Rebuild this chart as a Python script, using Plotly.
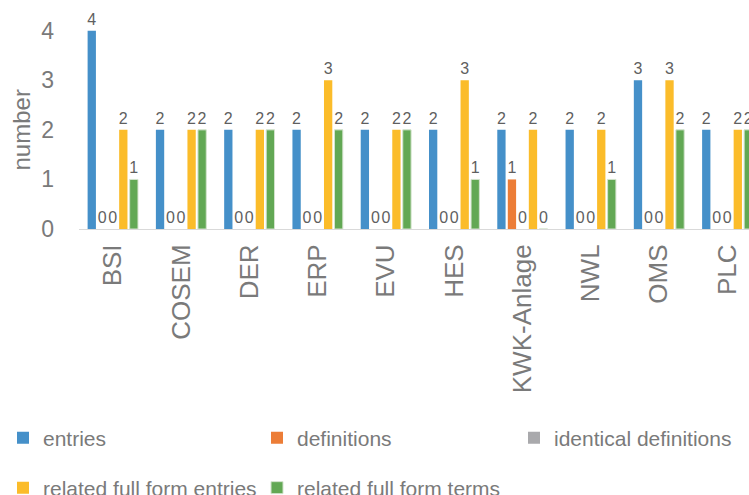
import plotly.graph_objects as go

# Terms and the counts found for each of them
categories = ["BSI", "COSEM", "DER", "ERP", "EVU", "HES", "KWK-Anlage", "NWL", "OMS", "PLC"]
entries = [4, 2, 2, 2, 2, 2, 2, 2, 3, 2]
definitions = [0, 0, 0, 0, 0, 0, 1, 0, 0, 0]
identical_definitions = [0, 0, 0, 0, 0, 0, 0, 0, 0, 0]
related_full_form_entries = [2, 2, 2, 3, 2, 3, 2, 2, 3, 2]
related_full_form_terms = [1, 2, 2, 2, 2, 1, 0, 1, 2, 2]

series = [
    ("entries", entries, "#4590C9", "legend"),
    ("definitions", definitions, "#EC7D37", "legend"),
    ("identical definitions", identical_definitions, "#A9A9AC", "legend3"),
    ("related full form entries", related_full_form_entries, "#FBBC2A", "legend2"),
    ("related full form terms", related_full_form_terms, "#62A854", "legend2"),
]

FONT = "Liberation Sans, Arial, Helvetica, sans-serif"
TEXT_GREY = "#7a7a7a"
LABEL_GREY = "#5f5f5f"
W, H = 749, 495

fig = go.Figure()
for name, values, color, legend in series:
    line = dict(color="#d3e3cd", width=1) if name == "related full form terms" else dict(width=0)
    fig.add_trace(go.Bar(
        name=name,
        x=categories,
        y=values,
        marker=dict(color=color, line=line),
        text=[str(v) for v in values],
        textposition="outside",
        constraintext="none",
        textfont=dict(family=FONT, size=16, color=LABEL_GREY),
        cliponaxis=False,
        legend=legend,
    ))

legend_common = dict(
    orientation="h",
    xref="container",
    yref="container",
    xanchor="left",
    yanchor="middle",
    entrywidth=209,
    itemwidth=30,
    font=dict(family=FONT, size=21, color=TEXT_GREY),
    bgcolor="rgba(0,0,0,0)",
    traceorder="normal",
)

fig.update_layout(
    width=W,
    height=H,
    margin=dict(l=79, r=0, t=1, b=266),
    plot_bgcolor="white",
    paper_bgcolor="white",
    barmode="group",
    bargap=0.23,
    bargroupgap=0.21,
    showlegend=True,
    legend=dict(x=3 / W, y=1 - 438 / H, **legend_common),
    legend3=dict(x=514 / W, y=1 - 438 / H, **legend_common),
    legend2=dict(x=3 / W, y=1 - 488 / H, **legend_common),
    xaxis=dict(
        range=[-0.495, 9.318],
        tickangle=-90,
        tickfont=dict(family=FONT, size=26, color=TEXT_GREY),
        showline=True,
        linecolor="#d9d9d9",
        linewidth=1,
        showgrid=False,
        ticks="",
        ticklabelstandoff=4,
        automargin=False,
        fixedrange=True,
    ),
    yaxis=dict(
        range=[0, 4.6],
        tickvals=[0, 1, 2, 3, 4],
        tickfont=dict(family=FONT, size=23, color=TEXT_GREY),
        showgrid=False,
        zeroline=False,
        showline=False,
        ticks="",
        ticklabelstandoff=24,
        automargin=False,
        fixedrange=True,
    ),
    annotations=[
        dict(
            text="number",
            xref="paper", yref="paper",
            x=(21 - 79) / 670, y=(229 - 129.5) / 228,
            xanchor="center", yanchor="middle",
            textangle=-90,
            showarrow=False,
            font=dict(family=FONT, size=24, color=TEXT_GREY),
        )
    ],
)

fig.write_html("out.html")
